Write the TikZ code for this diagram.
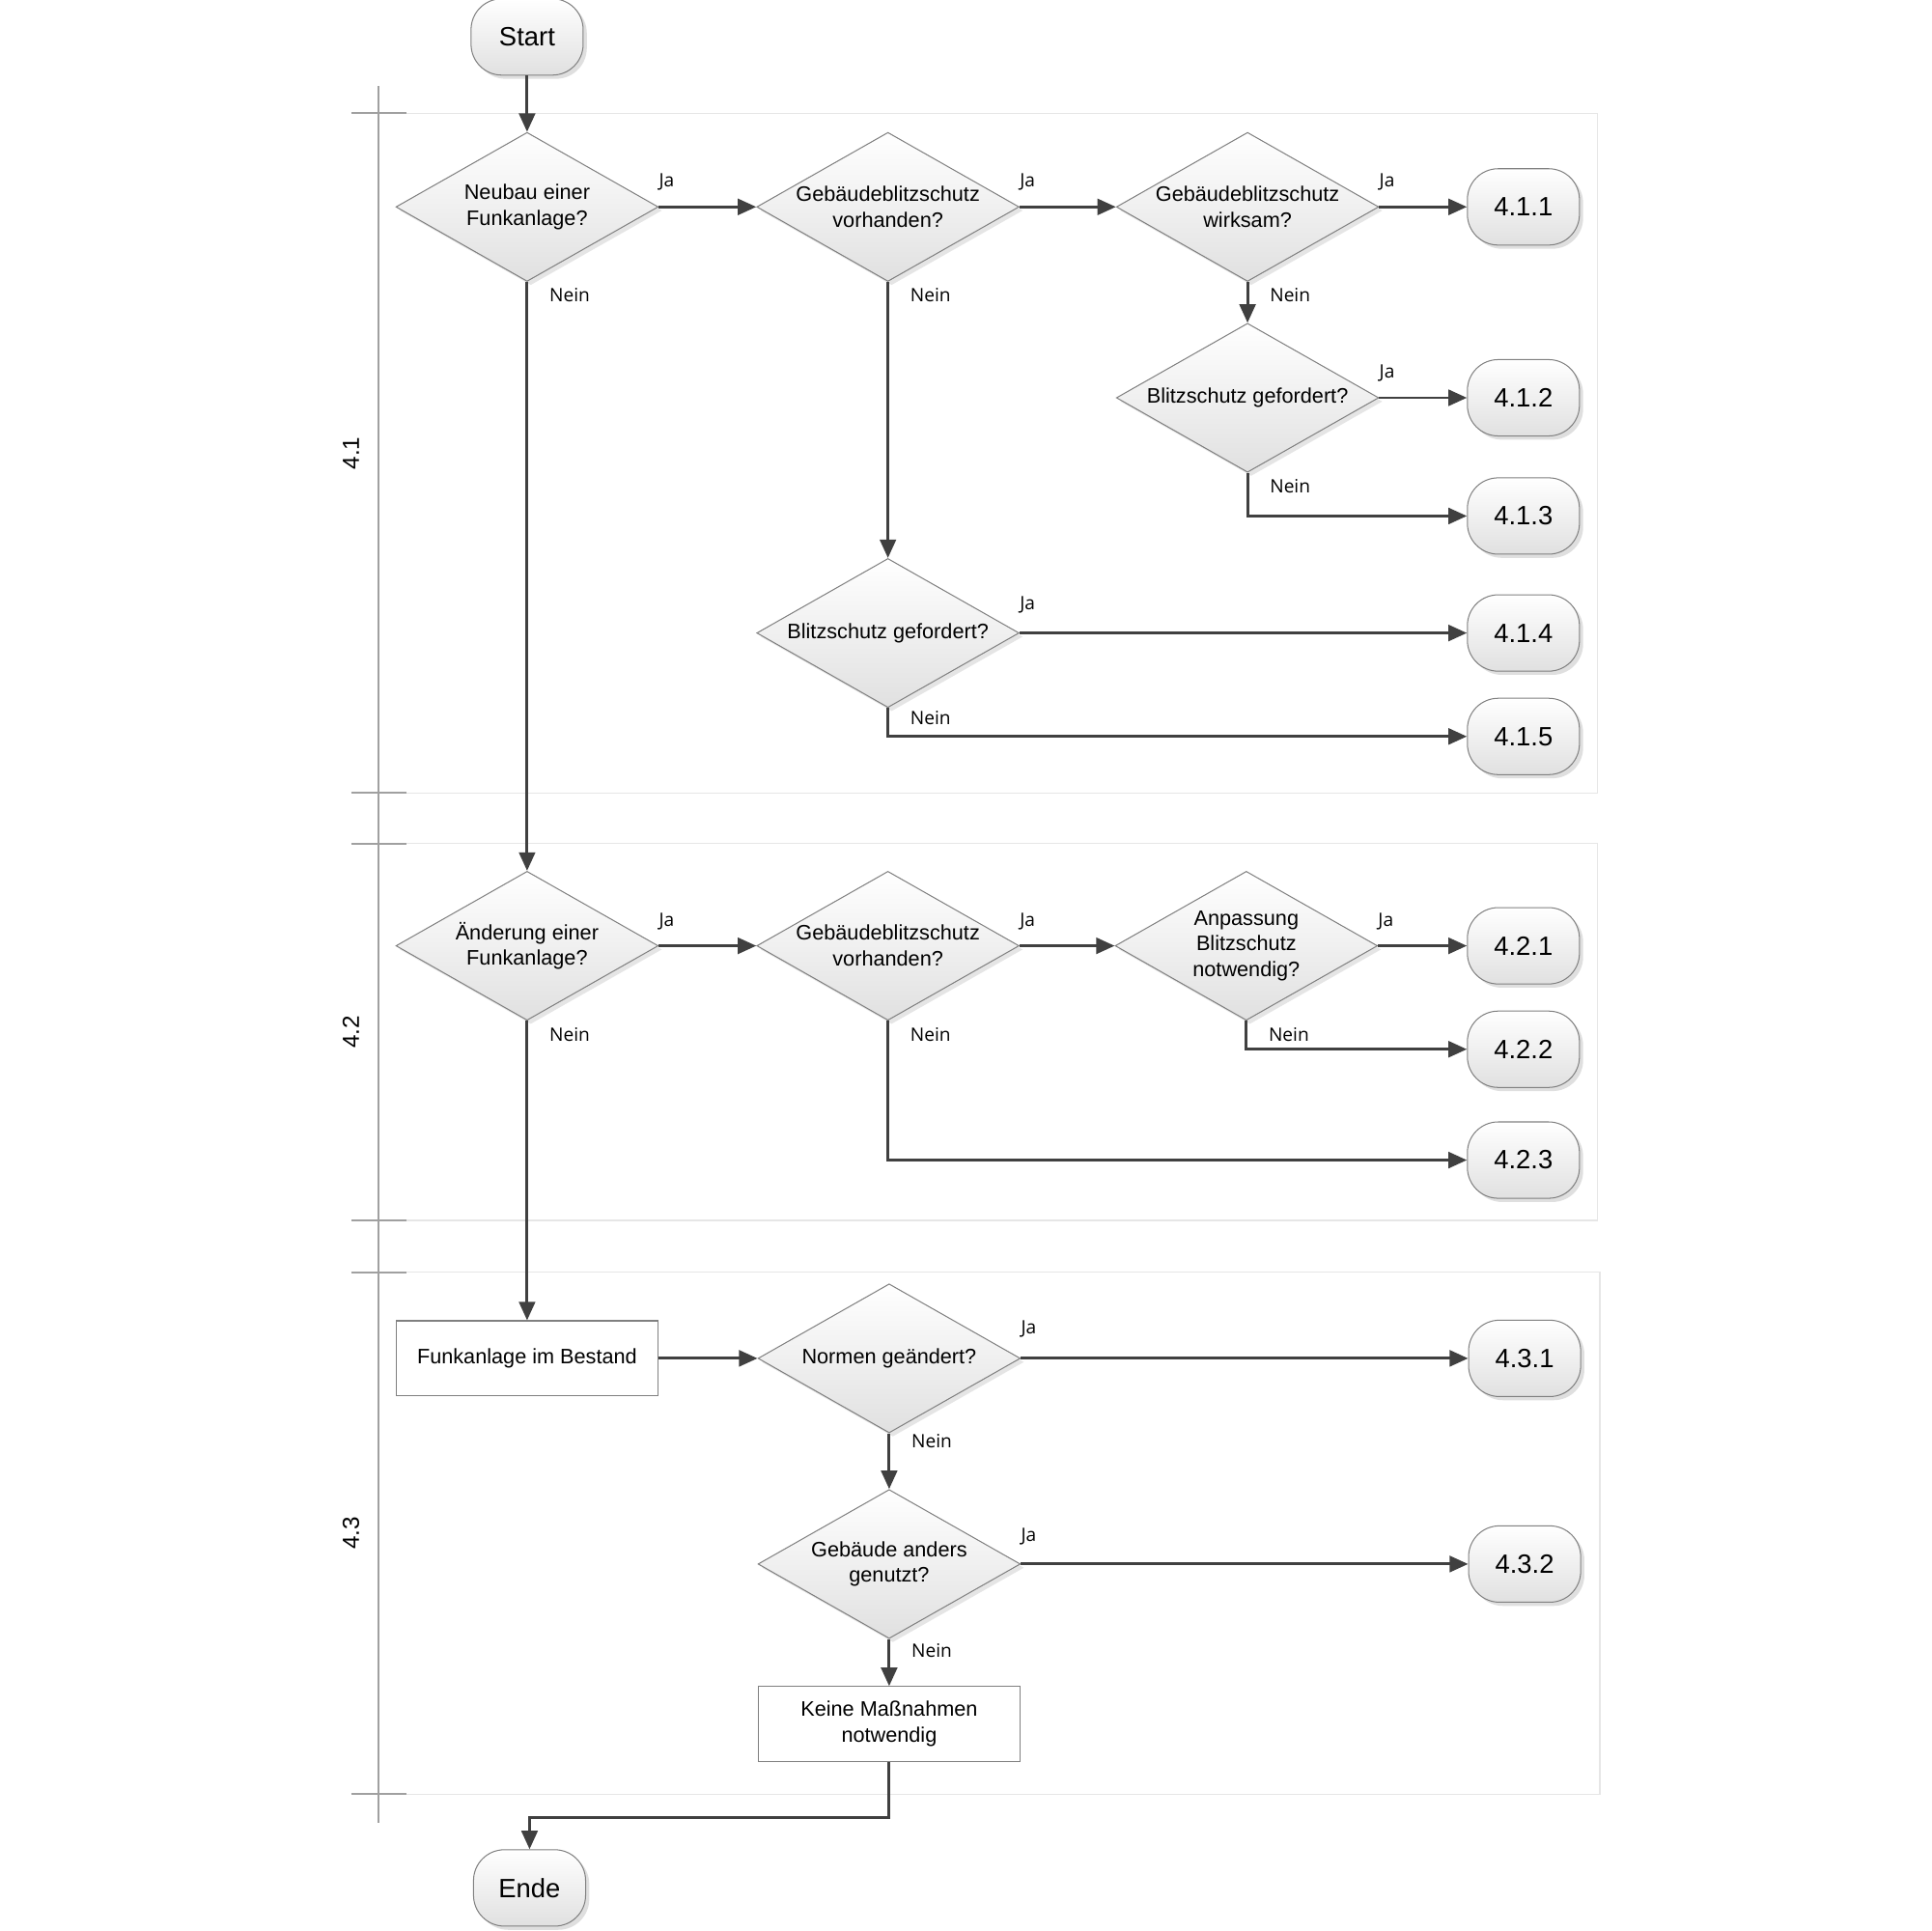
\documentclass[tikz,border=0pt]{standalone}
\usepackage{fontspec}
\setmainfont{Liberation Sans}
\newfontfamily\ynfont{Open Sans}
\usetikzlibrary{shapes.geometric,arrows.meta,shadows}
\definecolor{linegray}{HTML}{404040}
\definecolor{lanegray}{HTML}{E6E6E6}
\definecolor{tickgray}{HTML}{A0A0A0}
\definecolor{bordergray}{HTML}{808080}
\tikzset{
  terminal/.style={rectangle,rounded corners=25pt,draw=bordergray,line width=0.8pt,top color=white,bottom color=black!12,minimum width=91pt,minimum height=62pt,inner sep=0pt,font=\fontsize{21.5}{26}\selectfont,drop shadow={shadow xshift=3pt,shadow yshift=-3pt,fill=black!25,opacity=0.5}},
  decision/.style={diamond,aspect=1.76,draw=bordergray,line width=0.8pt,top color=white,bottom color=black!12,minimum width=213pt,minimum height=121pt,inner sep=0pt,align=center,font=\fontsize{17}{21}\selectfont,drop shadow={shadow xshift=3pt,shadow yshift=-3pt,fill=black!25,opacity=0.4}},
  process/.style={rectangle,draw=bordergray,fill=white,line width=0.8pt,minimum width=212pt,minimum height=61pt,inner sep=0pt,align=center,font=\fontsize{17}{21}\selectfont},
  flow/.style={draw=linegray,line width=2.3pt,-{Triangle[length=15pt,width=13pt]}},
  yn/.style={font=\ynfont\fontsize{15}{17}\selectfont,inner sep=0pt,anchor=west},
  lanelabel/.style={rotate=90,font=\fontsize{19}{22}\selectfont}
}
\begin{document}
\begin{tikzpicture}[x=1pt,y=-1pt]
\useasboundingbox (0,0) rectangle (1568,1568);

\draw [lanegray,line width=1pt] (330,92) -- (1297,92) -- (1297,644) -- (330,644);
\draw [lanegray,line width=1pt] (330,685) -- (1297,685) -- (1297,991) -- (330,991);
\draw [lanegray,line width=1pt] (330,1033) -- (1299,1033) -- (1299,1457) -- (330,1457);
\draw [tickgray,line width=1.5pt] (307,70) -- (307,1480);
\draw [tickgray,line width=1.5pt] (285,92) -- (330,92);
\draw [tickgray,line width=1.5pt] (285,644) -- (330,644);
\draw [tickgray,line width=1.5pt] (285,685) -- (330,685);
\draw [tickgray,line width=1.5pt] (285,991) -- (330,991);
\draw [tickgray,line width=1.5pt] (285,1033) -- (330,1033);
\draw [tickgray,line width=1.5pt] (285,1457) -- (330,1457);
\node [lanelabel] (lane1) at (285,368) {4.1};
\node [lanelabel] (lane2) at (285,838) {4.2};
\node [lanelabel] (lane3) at (285,1245) {4.3};

\node [terminal] (start) at (428,30) {Start};
\node [decision] (d1) at (428,168) {Neubau einer\\Funkanlage?};
\node [decision] (d2) at (721,168) {Gebäudeblitzschutz\\vorhanden?};
\node [decision] (d3) at (1013,168) {Gebäudeblitzschutz\\wirksam?};
\node [decision] (d4) at (1013,323) {Blitzschutz gefordert?};
\node [decision] (d5) at (721,514) {Blitzschutz gefordert?};
\node [terminal] (t411) at (1237,168) {4.1.1};
\node [terminal] (t412) at (1237,323) {4.1.2};
\node [terminal] (t413) at (1237,419) {4.1.3};
\node [terminal] (t414) at (1237,514) {4.1.4};
\node [terminal] (t415) at (1237,598) {4.1.5};

\node [decision] (d6) at (428,768) {Änderung einer\\Funkanlage?};
\node [decision] (d7) at (721,768) {Gebäudeblitzschutz\\vorhanden?};
\node [decision] (d8) at (1012,768) {Anpassung\\Blitzschutz\\notwendig?};
\node [terminal] (t421) at (1237,768) {4.2.1};
\node [terminal] (t422) at (1237,852) {4.2.2};
\node [terminal] (t423) at (1237,942) {4.2.3};

\node [process] (r1) at (428,1103) {Funkanlage im Bestand};
\node [decision] (d9) at (722,1103) {Normen geändert?};
\node [decision] (d10) at (722,1270) {Gebäude anders\\genutzt?};
\node [process] (r2) at (722,1400) {Keine Maßnahmen\\notwendig};
\node [terminal] (t431) at (1238,1103) {4.3.1};
\node [terminal] (t432) at (1238,1270) {4.3.2};
\node [terminal] (ende) at (430,1533) {Ende};
\coordinate (bend) at (430,1476);

\draw [flow] (start) -- (d1);
\draw [flow] (d1) -- (d2);
\draw [flow] (d2) -- (d3);
\draw [flow] (d3) -- (t411);
\draw [flow] (d3.south) -- (d4.north);
\draw [flow] (d4) -- (t412);
\draw [flow] (d4.south) |- (t413.west);
\draw [flow] (d2.south) -- (d5.north);
\draw [flow] (d5) -- (t414);
\draw [flow] (d5.south) |- (t415.west);
\draw [flow] (d1.south) -- (d6.north);
\draw [flow] (d6) -- (d7);
\draw [flow] (d7) -- (d8);
\draw [flow] (d8) -- (t421);
\draw [flow] (d8.south) |- (t422.west);
\draw [flow] (d7.south) |- (t423.west);
\draw [flow] (d6.south) -- (r1.north);
\draw [flow] (r1) -- (d9);
\draw [flow] (d9) -- (t431);
\draw [flow] (d9.south) -- (d10.north);
\draw [flow] (d10) -- (t432);
\draw [flow] (d10.south) -- (r2.north);
\draw [flow] (r2.south) |- (bend) -- (ende.north);

\node [yn] (ja1) at ([yshift=20pt]d1.east) {Ja};
\node [yn] (ja2) at ([yshift=20pt]d2.east) {Ja};
\node [yn] (ja3) at ([yshift=20pt]d3.east) {Ja};
\node [yn] (ja4) at ([yshift=20pt]d4.east) {Ja};
\node [yn] (ja5) at ([yshift=23pt]d5.east) {Ja};
\node [yn] (ja6) at ([yshift=20pt]d6.east) {Ja};
\node [yn] (ja7) at ([yshift=20pt]d7.east) {Ja};
\node [yn] (ja8) at ([yshift=20pt]d8.east) {Ja};
\node [yn] (ja9) at ([yshift=24pt]d9.east) {Ja};
\node [yn] (ja10) at ([yshift=22pt]d10.east) {Ja};
\node [yn] (nein1) at ([xshift=18pt,yshift=-11pt]d1.south) {Nein};
\node [yn] (nein2) at ([xshift=18pt,yshift=-11pt]d2.south) {Nein};
\node [yn] (nein3) at ([xshift=18pt,yshift=-11pt]d3.south) {Nein};
\node [yn] (nein4) at ([xshift=18pt,yshift=-11pt]d4.south) {Nein};
\node [yn] (nein5) at ([xshift=18pt,yshift=-8pt]d5.south) {Nein};
\node [yn] (nein6) at ([xshift=18pt,yshift=-11pt]d6.south) {Nein};
\node [yn] (nein7) at ([xshift=18pt,yshift=-11pt]d7.south) {Nein};
\node [yn] (nein8) at ([xshift=18pt,yshift=-11pt]d8.south) {Nein};
\node [yn] (nein9) at ([xshift=18pt,yshift=-6pt]d9.south) {Nein};
\node [yn] (nein10) at ([xshift=18pt,yshift=-9pt]d10.south) {Nein};
\end{tikzpicture}
\end{document}
